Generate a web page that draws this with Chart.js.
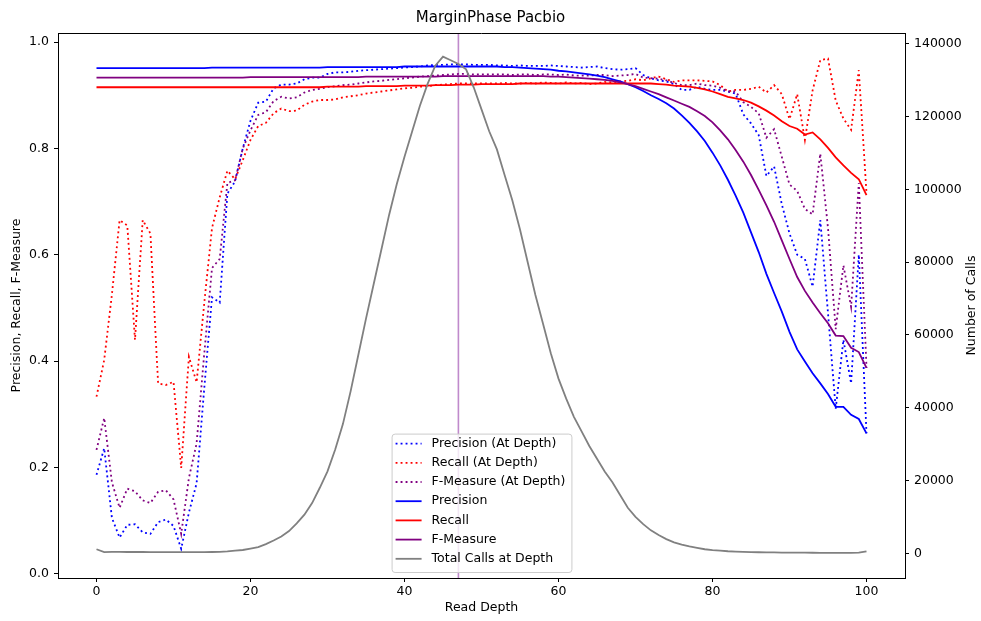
<!DOCTYPE html>
<html>
<head>
<meta charset="utf-8">
<title>MarginPhase Pacbio</title>
<script src="https://cdn.jsdelivr.net/npm/chart.js@4.4.1/dist/chart.umd.min.js"></script>
<style>
  html, body { margin: 0; padding: 0; background: #fff; }
  #wrap { width: 981px; height: 621px; }
</style>
</head>
<body>
<div id="wrap"><canvas id="depthChart" width="981" height="621"></canvas></div>
<script>
// Read depth 0..100
const readDepth = [
  0, 1, 2, 3, 4, 5, 6, 7, 8, 9,
  10, 11, 12, 13, 14, 15, 16, 17, 18, 19,
  20, 21, 22, 23, 24, 25, 26, 27, 28, 29,
  30, 31, 32, 33, 34, 35, 36, 37, 38, 39,
  40, 41, 42, 43, 44, 45, 46, 47, 48, 49,
  50, 51, 52, 53, 54, 55, 56, 57, 58, 59,
  60, 61, 62, 63, 64, 65, 66, 67, 68, 69,
  70, 71, 72, 73, 74, 75, 76, 77, 78, 79,
  80, 81, 82, 83, 84, 85, 86, 87, 88, 89,
  90, 91, 92, 93, 94, 95, 96, 97, 98, 99,
  100
];

const precisionAtDepth = [
  0.186, 0.236, 0.105, 0.068, 0.092, 0.093, 0.078, 0.075, 0.097, 0.102,
  0.090, 0.047, 0.115, 0.170, 0.350, 0.520, 0.510, 0.715, 0.738, 0.800,
  0.852, 0.886, 0.888, 0.913, 0.920, 0.920, 0.922, 0.930, 0.933, 0.933,
  0.940, 0.943, 0.943, 0.944, 0.946, 0.947, 0.948, 0.949, 0.950, 0.951,
  0.952, 0.953, 0.954, 0.956, 0.957, 0.957, 0.958, 0.958, 0.958, 0.957,
  0.957, 0.957, 0.956, 0.956, 0.955, 0.956, 0.955, 0.955, 0.955, 0.956,
  0.955, 0.954, 0.953, 0.952, 0.953, 0.954, 0.951, 0.949, 0.948, 0.949,
  0.951, 0.938, 0.932, 0.928, 0.926, 0.921, 0.910, 0.910, 0.916, 0.912,
  0.910, 0.910, 0.907, 0.903, 0.864, 0.847, 0.825, 0.748, 0.766, 0.695,
  0.640, 0.600, 0.592, 0.540, 0.665, 0.490, 0.310, 0.440, 0.358, 0.600,
  0.264
];

const recallAtDepth = [
  0.333, 0.402, 0.525, 0.665, 0.655, 0.440, 0.665, 0.640, 0.358, 0.355,
  0.361, 0.199, 0.408, 0.360, 0.510, 0.650, 0.708, 0.758, 0.742, 0.778,
  0.816, 0.842, 0.848, 0.866, 0.875, 0.870, 0.871, 0.882, 0.888, 0.891,
  0.891, 0.892, 0.896, 0.898, 0.900, 0.903, 0.905, 0.907, 0.909, 0.911,
  0.913, 0.914, 0.916, 0.917, 0.919, 0.920, 0.921, 0.922, 0.922, 0.922,
  0.922, 0.922, 0.922, 0.923, 0.922, 0.922, 0.923, 0.922, 0.924, 0.923,
  0.922, 0.924, 0.922, 0.923, 0.921, 0.922, 0.925, 0.924, 0.926, 0.927,
  0.930, 0.928, 0.932, 0.935, 0.930, 0.925, 0.928, 0.928, 0.928, 0.927,
  0.926, 0.919, 0.907, 0.910, 0.910, 0.912, 0.916, 0.905, 0.919, 0.902,
  0.855, 0.902, 0.816, 0.909, 0.966, 0.969, 0.890, 0.856, 0.835, 0.947,
  0.716
];

const fMeasureAtDepth = [
  0.233, 0.293, 0.172, 0.124, 0.160, 0.155, 0.138, 0.133, 0.154, 0.157,
  0.140, 0.075, 0.180, 0.245, 0.415, 0.575, 0.592, 0.735, 0.740, 0.800,
  0.834, 0.863, 0.868, 0.889, 0.897, 0.894, 0.896, 0.905, 0.910, 0.912,
  0.915, 0.917, 0.919, 0.920, 0.922, 0.924, 0.926, 0.927, 0.929, 0.930,
  0.932, 0.933, 0.935, 0.936, 0.937, 0.938, 0.939, 0.940, 0.940, 0.939,
  0.939, 0.939, 0.939, 0.939, 0.938, 0.939, 0.939, 0.938, 0.939, 0.939,
  0.938, 0.939, 0.937, 0.937, 0.937, 0.938, 0.938, 0.936, 0.937, 0.938,
  0.940, 0.933, 0.932, 0.931, 0.928, 0.923, 0.919, 0.919, 0.922, 0.919,
  0.918, 0.914, 0.907, 0.907, 0.887, 0.878, 0.866, 0.820, 0.836, 0.784,
  0.732, 0.720, 0.686, 0.676, 0.790, 0.650, 0.460, 0.580, 0.502, 0.735,
  0.387
];

const precision = [
  0.951, 0.951, 0.951, 0.951, 0.951, 0.951, 0.951, 0.951, 0.951, 0.951,
  0.951, 0.951, 0.951, 0.951, 0.951, 0.952, 0.952, 0.952, 0.952, 0.952,
  0.952, 0.952, 0.952, 0.952, 0.952, 0.952, 0.952, 0.952, 0.952, 0.952,
  0.953, 0.953, 0.953, 0.953, 0.953, 0.953, 0.953, 0.953, 0.953, 0.953,
  0.954, 0.954, 0.954, 0.954, 0.954, 0.954, 0.954, 0.954, 0.954, 0.954,
  0.954, 0.954, 0.954, 0.953, 0.953, 0.952, 0.951, 0.950, 0.949, 0.948,
  0.946, 0.945, 0.943, 0.941, 0.939, 0.937, 0.934, 0.930, 0.926, 0.921,
  0.915, 0.908, 0.900, 0.893, 0.885, 0.875, 0.862, 0.848, 0.832, 0.814,
  0.792, 0.768, 0.741, 0.711, 0.679, 0.642, 0.605, 0.564, 0.528, 0.493,
  0.455, 0.422, 0.399, 0.377, 0.358, 0.338, 0.314, 0.314, 0.299, 0.291,
  0.264
];

const recall = [
  0.915, 0.915, 0.915, 0.915, 0.915, 0.915, 0.915, 0.915, 0.915, 0.915,
  0.915, 0.915, 0.915, 0.915, 0.915, 0.915, 0.915, 0.915, 0.915, 0.915,
  0.915, 0.915, 0.915, 0.915, 0.915, 0.915, 0.915, 0.915, 0.915, 0.915,
  0.916, 0.916, 0.916, 0.916, 0.916, 0.917, 0.917, 0.917, 0.917, 0.917,
  0.918, 0.918, 0.918, 0.918, 0.919, 0.919, 0.919, 0.920, 0.920, 0.920,
  0.921, 0.921, 0.921, 0.921, 0.921, 0.922, 0.922, 0.922, 0.922, 0.922,
  0.922, 0.922, 0.922, 0.922, 0.922, 0.922, 0.922, 0.922, 0.922, 0.922,
  0.922, 0.922, 0.922, 0.921, 0.920, 0.918, 0.917, 0.916, 0.914, 0.911,
  0.907, 0.902, 0.897, 0.894, 0.891, 0.886, 0.879, 0.871, 0.862, 0.851,
  0.842, 0.837, 0.826, 0.830, 0.817, 0.801, 0.783, 0.768, 0.754, 0.742,
  0.712
];

const fMeasure = [
  0.933, 0.933, 0.933, 0.933, 0.933, 0.933, 0.933, 0.933, 0.933, 0.933,
  0.933, 0.933, 0.933, 0.933, 0.933, 0.933, 0.933, 0.933, 0.933, 0.933,
  0.934, 0.934, 0.934, 0.934, 0.934, 0.934, 0.934, 0.934, 0.934, 0.934,
  0.934, 0.934, 0.934, 0.934, 0.934, 0.935, 0.935, 0.935, 0.935, 0.935,
  0.935, 0.935, 0.935, 0.935, 0.935, 0.936, 0.936, 0.936, 0.936, 0.936,
  0.936, 0.936, 0.936, 0.936, 0.936, 0.936, 0.936, 0.936, 0.936, 0.935,
  0.935, 0.934, 0.933, 0.932, 0.931, 0.930, 0.929, 0.927, 0.924, 0.921,
  0.917, 0.912, 0.907, 0.902, 0.896, 0.890, 0.884, 0.878, 0.870, 0.861,
  0.849, 0.834, 0.817, 0.797, 0.775, 0.750, 0.722, 0.693, 0.662, 0.627,
  0.592, 0.558, 0.532, 0.510, 0.490, 0.471, 0.448, 0.447, 0.425, 0.417,
  0.387
];

const totalCalls = [
  1100, 300, 400, 400, 350, 350, 350, 300, 300, 300,
  300, 300, 300, 300, 300, 350, 400, 500, 700, 900,
  1300, 1700, 2500, 3500, 4600, 6100, 8200, 10600, 13800, 18000,
  22500, 28500, 35500, 44500, 54500, 64500, 74000, 83500, 93000, 101500,
  109000, 116000, 123000, 129000, 134000, 136500, 135500, 134500, 133000, 128000,
  122000, 116000, 111000, 104000, 97000, 89000, 80000, 71000, 63000, 55000,
  48000, 42500, 37500, 33500, 29500, 26000, 22500, 19500, 16000, 12500,
  10000, 8000, 6300, 5000, 3900, 3000, 2400, 1900, 1500, 1100,
  850, 700, 550, 450, 380, 330, 280, 250, 220, 200,
  180, 160, 150, 140, 130, 120, 110, 100, 100, 150,
  550
];

const meanDepth = 47;
const xTicks = [0, 20, 40, 60, 80, 100];
const leftTicks = [0, 0.2, 0.4, 0.6, 0.8, 1.0];
const rightTicks = [0, 20000, 40000, 60000, 80000, 100000, 120000, 140000];

const FONT = 'DejaVu Sans';
const SIZE = 12.5;

function points(values) {
  return readDepth.map((d, i) => ({ x: d, y: values[i] }));
}

function series(label, values, color, dotted, axis, order) {
  return {
    label: label,
    data: points(values),
    borderColor: color,
    backgroundColor: color,
    borderWidth: 1.8,
    borderDash: dotted ? [1.9, 3.1] : [],
    pointRadius: 0,
    tension: 0,
    fill: false,
    yAxisID: axis,
    order: order
  };
}

// vertical marker line, top frame, right axis label and the legend box inside the plot
const extras = {
  id: 'extras',
  beforeDatasetsDraw(chart) {
    const { ctx, chartArea: a, scales: { x } } = chart;
    const px = x.getPixelForValue(meanDepth);
    ctx.save();
    ctx.strokeStyle = 'rgba(150, 60, 170, 0.6)';
    ctx.lineWidth = 1.6;
    ctx.beginPath();
    ctx.moveTo(px, a.top);
    ctx.lineTo(px, a.bottom);
    ctx.stroke();
    ctx.restore();
  },
  afterDraw(chart) {
    const { ctx, chartArea: a } = chart;
    ctx.save();
    ctx.strokeStyle = '#000';
    ctx.lineWidth = 1;
    ctx.beginPath();
    ctx.moveTo(a.left, Math.round(a.top) + 0.5);
    ctx.lineTo(a.right, Math.round(a.top) + 0.5);
    ctx.stroke();

    ctx.font = SIZE + 'px "' + FONT + '"';

    // right label reads bottom to top, like the left one
    ctx.save();
    ctx.translate(chart.width - 9, (a.top + a.bottom) / 2);
    ctx.rotate(-Math.PI / 2);
    ctx.fillStyle = '#000';
    ctx.textAlign = 'center';
    ctx.textBaseline = 'middle';
    ctx.fillText('Number of Calls', 0, 0);
    ctx.restore();

    const sets = chart.data.datasets;
    let maxW = 0;
    sets.forEach(ds => { maxW = Math.max(maxW, ctx.measureText(ds.label).width); });
    const rowH = 19.2;
    const w = maxW + 46;
    const h = rowH * sets.length + 4;
    const left = (a.left + a.right) / 2 - w / 2;
    const top = a.bottom - 6 - h;

    ctx.beginPath();
    if (ctx.roundRect) ctx.roundRect(left + 0.5, top + 0.5, w, h, 3);
    else ctx.rect(left + 0.5, top + 0.5, w, h);
    ctx.fillStyle = 'rgba(255, 255, 255, 0.8)';
    ctx.fill();
    ctx.strokeStyle = '#cccccc';
    ctx.lineWidth = 1;
    ctx.stroke();

    sets.forEach((ds, i) => {
      const y = top + 10 + rowH * i;
      ctx.beginPath();
      ctx.setLineDash(ds.borderDash);
      ctx.strokeStyle = ds.borderColor;
      ctx.lineWidth = ds.borderWidth;
      ctx.moveTo(left + 4, y);
      ctx.lineTo(left + 30, y);
      ctx.stroke();
      ctx.setLineDash([]);
      ctx.fillStyle = '#000';
      ctx.textBaseline = 'middle';
      ctx.textAlign = 'left';
      ctx.fillText(ds.label, left + 40, y);
    });
    ctx.restore();
  }
};

function tickGrid() {
  return { drawOnChartArea: false, drawTicks: true, tickLength: 4, color: '#000', lineWidth: 1 };
}

const tickFont = { family: FONT, size: SIZE };

new Chart(document.getElementById('depthChart'), {
  type: 'line',
  data: {
    datasets: [
      series('Precision (At Depth)', precisionAtDepth, '#0000ff', true, 'y', 7),
      series('Recall (At Depth)', recallAtDepth, '#ff0000', true, 'y', 6),
      series('F-Measure (At Depth)', fMeasureAtDepth, '#800080', true, 'y', 5),
      series('Precision', precision, '#0000ff', false, 'y', 4),
      series('Recall', recall, '#ff0000', false, 'y', 3),
      series('F-Measure', fMeasure, '#800080', false, 'y', 2),
      series('Total Calls at Depth', totalCalls, '#808080', false, 'y2', 1)
    ]
  },
  options: {
    responsive: false,
    animation: false,
    events: [],
    layout: { padding: 0 },
    plugins: {
      legend: { display: false },
      tooltip: { enabled: false },
      title: {
        display: true,
        text: 'MarginPhase Pacbio',
        color: '#000',
        font: { family: FONT, size: 15, weight: 'normal' },
        padding: { top: 9, bottom: 6 }
      }
    },
    scales: {
      x: {
        type: 'linear',
        min: -5,
        max: 105,
        afterFit: s => { s.height = 43; },
        afterBuildTicks: s => { s.ticks = xTicks.map(v => ({ value: v })); },
        ticks: { color: '#000', font: tickFont, padding: 2, maxRotation: 0, callback: v => String(v) },
        grid: tickGrid(),
        border: { display: true, color: '#000', width: 1 },
        title: { display: true, text: 'Read Depth', color: '#000', font: tickFont, padding: { top: 0, bottom: 5.5 } }
      },
      y: {
        type: 'linear',
        position: 'left',
        min: -0.008,
        max: 1.017,
        afterFit: s => { s.width = 58; },
        afterBuildTicks: s => { s.ticks = leftTicks.map(v => ({ value: v })); },
        ticks: { color: '#000', font: tickFont, padding: 5, callback: v => v.toFixed(1) },
        grid: tickGrid(),
        border: { display: true, color: '#000', width: 1 },
        title: { display: true, text: 'Precision, Recall, F-Measure', color: '#000', font: tickFont, padding: { top: 9.5, bottom: 0 } }
      },
      y2: {
        type: 'linear',
        position: 'right',
        min: -6800,
        max: 143000,
        afterFit: s => { s.width = 76; },
        afterBuildTicks: s => { s.ticks = rightTicks.map(v => ({ value: v })); },
        ticks: { color: '#000', font: tickFont, padding: 5, callback: v => String(v) },
        grid: tickGrid(),
        border: { display: true, color: '#000', width: 1 }
      }
    }
  },
  plugins: [extras]
});
</script>
</body>
</html>
